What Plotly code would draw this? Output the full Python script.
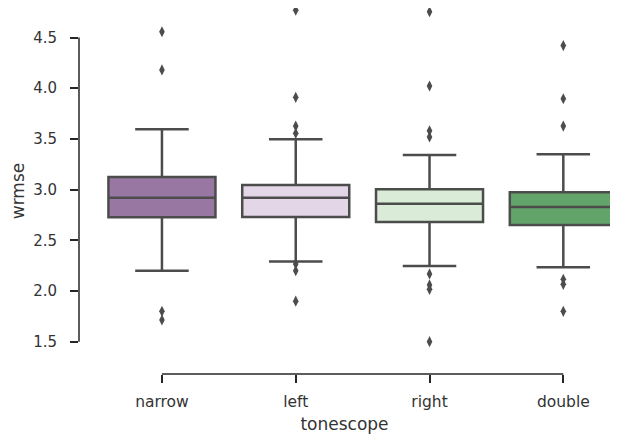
import plotly.graph_objects as go

categories = ["narrow", "left", "right", "double"]
q1 = [2.727, 2.73, 2.68, 2.65]
median = [2.92, 2.92, 2.861, 2.828]
q3 = [3.124, 3.045, 3.003, 2.973]
lower_whisker = [2.20, 2.29, 2.246, 2.234]
upper_whisker = [3.595, 3.496, 3.341, 3.348]
outliers = {
    "narrow": [4.557, 4.18, 1.80, 1.714],
    "left": [4.77, 3.91, 3.627, 3.555, 2.266, 2.20, 1.90],
    "right": [4.754, 4.022, 3.58, 3.52, 2.168, 2.06, 2.017, 1.50],
    "double": [4.42, 3.896, 3.627, 2.115, 2.066, 1.80],
}
colors = ["#9878a2", "#e3d6e6", "#daecd7", "#63a46a"]
yticks = [1.5, 2.0, 2.5, 3.0, 3.5, 4.0, 4.5]

edge = "#4c4c4c"
fig = go.Figure()
for i, c in enumerate(categories):
    fig.add_trace(go.Box(
        x=[c], q1=[q1[i]], median=[median[i]], q3=[q3[i]],
        lowerfence=[lower_whisker[i]], upperfence=[upper_whisker[i]],
        fillcolor=colors[i], line=dict(color=edge, width=2.5),
        width=0.8, whiskerwidth=0.5, boxpoints=False, showlegend=False,
    ))
    fig.add_trace(go.Scatter(
        x=[c] * len(outliers[c]), y=outliers[c], mode="markers",
        marker=dict(symbol="diamond-tall", size=8, color=edge, line=dict(width=0)),
        showlegend=False, cliponaxis=False,
    ))

axis_color = "#262626"
fig.update_layout(
    width=628, height=437,
    margin=dict(l=71, r=26, t=0, b=71),
    paper_bgcolor="white", plot_bgcolor="white",
    boxmode="overlay",
    font=dict(family="DejaVu Sans", size=15, color="#333333"),
    xaxis=dict(
        type="category", categoryorder="array", categoryarray=categories,
        range=[-0.62, 3.349], showgrid=False, zeroline=False, showline=False,
        automargin=False,
        ticks="outside", ticklen=8, tickwidth=1.5, tickcolor=axis_color,
        ticklabelstandoff=5,
        title=dict(text="tonescope", font=dict(size=17), standoff=8),
        tickfont=dict(size=15.5),
    ),
    yaxis=dict(
        range=[1.1815, 4.791], showgrid=False, zeroline=False, showline=False,
        automargin=False,
        tickvals=yticks, ticktext=[f"{v:.1f}" for v in yticks],
        ticks="outside", ticklen=8, tickwidth=1.5, tickcolor=axis_color,
        ticklabelstandoff=10,
        title=dict(text="wrmse", font=dict(size=17), standoff=6),
        tickfont=dict(size=15),
    ),
)
fig.add_shape(type="line", xref="x", yref="paper", x0=categories[0], x1=categories[-1],
              y0=0, y1=0, line=dict(color=axis_color, width=1.5))
fig.add_shape(type="line", xref="paper", yref="y", x0=0, x1=0,
              y0=yticks[0], y1=yticks[-1], line=dict(color=axis_color, width=1.5))
fig.write_html("out.html")
